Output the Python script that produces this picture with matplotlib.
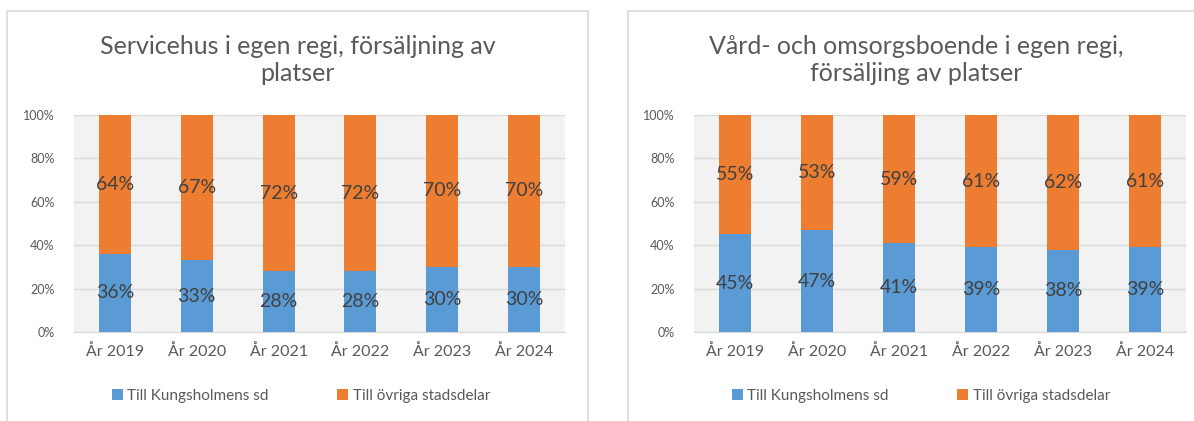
import matplotlib
matplotlib.use("Agg")
import matplotlib.pyplot as plt
from matplotlib.patches import Rectangle
import numpy as np

plt.rcParams['font.family'] = ['Lato', 'DejaVu Sans']

years = ['År 2019', 'År 2020', 'År 2021', 'År 2022', 'År 2023', 'År 2024']
series_names = ['Till Kungsholmens sd', 'Till övriga stadsdelar']

# Servicehus
service_kungsholmen = [36, 33, 28, 28, 30, 30]
service_ovriga = [64, 67, 72, 72, 70, 70]

# Vård- och omsorgsboende
vard_kungsholmen = [45, 47, 41, 39, 38, 39]
vard_ovriga = [55, 53, 59, 61, 62, 61]

titles = ['Servicehus i egen regi, försäljning av\nplatser',
          'Vård- och omsorgsboende i egen regi,\nförsäljing av platser']

BLUE = '#5B9BD5'
ORANGE = '#ED7D31'
W, H = 1194, 421


def px(x0, y0, x1, y1):
    # pixel box (top-left origin) -> figure fraction rect
    return [x0 / W, 1 - y1 / H, (x1 - x0) / W, (y1 - y0) / H]


def stacked(ax, low, high):
    x = np.arange(len(years))
    ax.set_facecolor('#F2F2F2')
    b1 = ax.bar(x, low, width=0.39, color=BLUE, zorder=3, label=series_names[0])
    b2 = ax.bar(x, high, width=0.39, bottom=low, color=ORANGE, zorder=3,
                label=series_names[1])
    for bars, vals in ((b1, low), (b2, high)):
        for rect, v in zip(bars, vals):
            ax.text(rect.get_x() + rect.get_width() / 2,
                    rect.get_y() + rect.get_height() / 2,
                    f'{v}%', ha='center', va='center', fontsize=14,
                    color='#404040', zorder=4)
    ax.set_xlim(-0.5, len(years) - 0.5)
    ax.set_ylim(0, 100)
    ax.set_yticks(np.arange(0, 101, 20))
    ax.set_yticklabels([f'{v}%' for v in range(0, 101, 20)])
    ax.set_xticks(x)
    ax.set_xticklabels(years)
    ax.yaxis.grid(True, color='#D9D9D9', linewidth=1, zorder=0)
    for s in ['top', 'right', 'left']:
        ax.spines[s].set_visible(False)
    ax.spines['bottom'].set_color('#D9D9D9')
    ax.tick_params(axis='y', length=0, labelsize=9, labelcolor='#595959', pad=14)
    ax.tick_params(axis='x', length=0, labelsize=11.5, labelcolor='#595959', pad=9)
    return b1, b2


fig = plt.figure(figsize=(W / 100, H / 100), dpi=100)

# panel frames
for x0, x1 in ((7, 588), (628, 1200)):
    r = Rectangle((x0 / W, 0 - 0.05), (x1 - x0) / W, 1 - 11 / H + 0.05,
                  transform=fig.transFigure, fill=False,
                  edgecolor='#D9D9D9', linewidth=1.2)
    fig.patches.append(r)

panels = [
    (px(74, 115, 565, 332), service_kungsholmen, service_ovriga, 298, 301),
    (px(694, 115, 1186, 332), vard_kungsholmen, vard_ovriga, 916, 921),
]
for (rect, low, high, tx, lx), title in zip(panels, titles):
    ax = fig.add_axes(rect)
    b1, b2 = stacked(ax, low, high)
    fig.text(tx / W, 1 - 60 / H, title, ha='center', va='center',
             fontsize=18, color='#595959', linespacing=1.2)
    fig.legend([b1, b2], series_names, loc='center',
               bbox_to_anchor=(lx / W, 1 - 396 / H), ncol=2, frameon=False,
               handlelength=0.7, handleheight=0.7, handletextpad=0.3,
               columnspacing=4.5, fontsize=11, labelcolor='#595959')

fig.savefig('out.png', dpi=100)
